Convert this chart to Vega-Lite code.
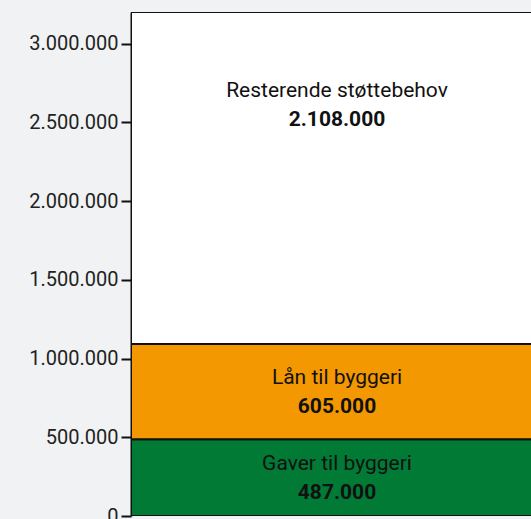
{
  "$schema": "https://vega.github.io/schema/vega-lite/v6.json",
  "width": 400,
  "height": 504,
  "autosize": {"type": "none"},
  "padding": {"left": 131, "top": 12, "right": 0, "bottom": 3},
  "background": "#f1f2f3",
  "config": {
    "locale": {"number": {"decimal": ",", "thousands": ".", "grouping": [3], "currency": ["", " kr"]}},
    "view": {"stroke": null, "fill": "#ffffff"},
    "font": "Roboto"
  },
  "data": {
    "values": [
      {"segment": "Gaver til byggeri", "amount": 487000, "order": 1},
      {"segment": "Lån til byggeri", "amount": 605000, "order": 2},
      {"segment": "Resterende støttebehov", "amount": 2108000, "order": 3}
    ]
  },
  "transform": [
    {"stack": "amount", "groupby": [], "sort": [{"field": "order"}], "as": ["start", "end"]},
    {"calculate": "datum.order == 3 ? datum.end - 590000 : (datum.start + datum.end) / 2", "as": "labelY"}
  ],
  "layer": [
    {
      "mark": {"type": "bar", "stroke": "#111111", "strokeWidth": 2, "clip": true},
      "encoding": {
        "x": {"datum": 0, "type": "quantitative", "scale": {"domain": [0, 1]}, "axis": null},
        "x2": {"datum": 1.3},
        "y": {"field": "start", "type": "quantitative", "scale": {"domain": [0, 3200000], "nice": false},
          "axis": {"values": [0, 500000, 1000000, 1500000, 2000000, 2500000, 3000000], "format": ",.0f", "title": null,
            "grid": false, "domainColor": "#111111", "domainWidth": 2, "tickColor": "#111111", "tickWidth": 2, "tickSize": 10,
            "labelFontSize": 20, "labelColor": "#222222", "labelPadding": 3, "labelFont": "Roboto"}},
        "y2": {"field": "end"},
        "fill": {"field": "segment", "type": "nominal",
          "scale": {"domain": ["Gaver til byggeri", "Lån til byggeri", "Resterende støttebehov"], "range": ["#017a36", "#f39800", "#ffffff"]},
          "legend": null}
      }
    },
    {
      "mark": {"type": "text", "fontSize": 21, "dy": -14, "color": "#111111", "font": "Roboto"},
      "encoding": {
        "x": {"datum": 0.515, "type": "quantitative"},
        "y": {"field": "labelY", "type": "quantitative"},
        "text": {"field": "segment"}
      }
    },
    {
      "mark": {"type": "text", "fontSize": 21, "fontWeight": "bold", "dy": 15, "color": "#111111", "font": "Roboto"},
      "encoding": {
        "x": {"datum": 0.515, "type": "quantitative"},
        "y": {"field": "labelY", "type": "quantitative"},
        "text": {"field": "amount", "type": "quantitative", "format": ",.0f"}
      }
    }
  ]
}
